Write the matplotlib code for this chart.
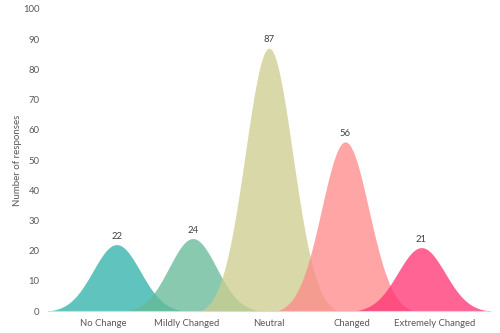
import numpy as np
import matplotlib
matplotlib.use("Agg")
import matplotlib.pyplot as plt

categories = ["No Change", "Mildly Changed", "Neutral", "Changed", "Extremely Changed"]
values = [22, 24, 87, 56, 21]
colors = ["#32B2A9", "#65B998", "#CDCD8F", "#FF8A8A", "#FF3575"]
yticks = [0, 10, 20, 30, 40, 50, 60, 70, 80, 90, 100]

plt.rcParams['font.family'] = ['Lato', 'DejaVu Sans']

fig = plt.figure(figsize=(5, 3.33), dpi=100)
ax = fig.add_axes([0.096, 0.066, 0.884, 0.907])

half = 0.9
sigma = 0.31
t = np.linspace(-half, half, 400)
e0 = np.exp(-half**2 / (2 * sigma**2))
shape = (np.exp(-t**2 / (2 * sigma**2)) - e0) / (1 - e0)

for i, (v, c) in enumerate(zip(values, colors)):
    ax.fill_between(t + i, 0, v * shape, color=c, alpha=0.77, linewidth=0, zorder=2 + i)
    ax.text(i, v + 1.3, str(v), ha='center', va='bottom', fontsize=6.8, color='#404040')

ax.set_xlim(-0.9, 4.9)
ax.set_ylim(0, 100)
ax.set_yticks(yticks)
ax.set_yticklabels([str(y) for y in yticks], fontsize=6.8, color='#595959')
n = len(categories)
label_pos = [2 + (i - 2) * 1.085 for i in range(n)]
ax.set_xticks(label_pos)
ax.set_xticklabels(categories, fontsize=6.8, color='#595959')
ax.tick_params(axis='both', length=0)
ax.tick_params(axis='y', pad=6)
ax.tick_params(axis='x', pad=6)
for s in ['top', 'right', 'left']:
    ax.spines[s].set_visible(False)
ax.spines['bottom'].set_color('#D9D9D9')
ax.spines['bottom'].set_linewidth(0.8)
ax.spines['bottom'].set_zorder(10)
ax.set_ylabel("Number of responses", fontsize=7, color='#595959', labelpad=1)

fig.savefig("out.png", dpi=100)
